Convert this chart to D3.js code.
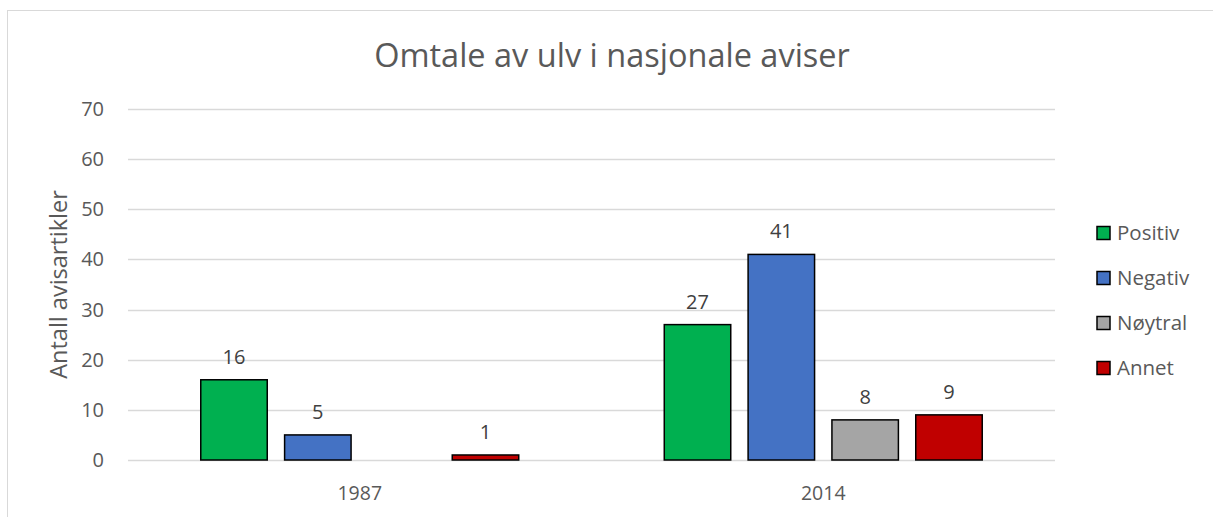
<!DOCTYPE html>
<html>
<head>
<meta charset="utf-8">
<script src="https://cdn.jsdelivr.net/npm/d3@7"></script>
<style>
  body { margin: 0; background: #fff; }
  text { font-family: "Open Sans", "Noto Sans", sans-serif; fill: #595959; }
</style>
</head>
<body>
<svg></svg>
<script>
const years = ['1987', '2014'];
const seriesNames = ['Positiv', 'Negativ', 'Nøytral', 'Annet'];
const seriesColors = ['#00B050', '#4472C4', '#A5A5A5', '#C00000'];
// null = ingen verdi (ingen søyle, ingen etikett)
const positiv = [16, 27];
const negativ = [5, 41];
const noytral = [null, 8];
const annet = [1, 9];
const yTicks = [0, 10, 20, 30, 40, 50, 60, 70];

const seriesValues = [positiv, negativ, noytral, annet];

const svgWidth = 1213;
const svgHeight = 517;
const margin = { left: 128, right: 158, top: 109, bottom: 57 };
const width = svgWidth - margin.left - margin.right;
const height = svgHeight - margin.top - margin.bottom;

const svg = d3.select("svg")
  .attr("width", svgWidth)
  .attr("height", svgHeight);

// ramme rundt diagrammet
svg.append("rect")
  .attr("x", 7.5)
  .attr("y", 10.5)
  .attr("width", svgWidth + 10)
  .attr("height", svgHeight + 10)
  .attr("fill", "none")
  .attr("stroke", "#D9D9D9")
  .attr("stroke-width", 1);

const g = svg.append("g")
  .attr("transform", `translate(${margin.left},${margin.top})`);

const x0 = d3.scaleBand()
  .domain(years)
  .range([0, width])
  .paddingInner(0)
  .paddingOuter(0);

// 4 søyler per gruppe, gruppen tar ca 318 av 463 px
const groupWidth = x0.bandwidth() * 0.686;
const x1 = d3.scaleBand()
  .domain(seriesNames)
  .range([(x0.bandwidth() - groupWidth) / 2, (x0.bandwidth() + groupWidth) / 2])
  .paddingInner(0.207)
  .paddingOuter(0);

const y = d3.scaleLinear()
  .domain([0, 70])
  .range([height, 0]);

// rutenett
g.selectAll(".grid")
  .data(yTicks)
  .enter().append("line")
  .attr("class", "grid")
  .attr("x1", 0)
  .attr("x2", width)
  .attr("y1", d => Math.round(y(d)) + 0.5)
  .attr("y2", d => Math.round(y(d)) + 0.5)
  .attr("stroke", "#D9D9D9")
  .attr("stroke-width", 1.3);

// y-akse etiketter
g.selectAll(".y-label")
  .data(yTicks)
  .enter().append("text")
  .attr("class", "y-label")
  .attr("x", -24)
  .attr("y", d => y(d))
  .attr("dy", "0.35em")
  .attr("text-anchor", "end")
  .style("font-size", "20px")
  .text(d => d);

// søyler
const bars = [];
years.forEach((yr, i) => {
  seriesNames.forEach((s, j) => {
    const v = seriesValues[j][i];
    if (v !== null) bars.push({ year: yr, series: s, value: v, color: seriesColors[j] });
  });
});

g.selectAll(".bar")
  .data(bars)
  .enter().append("rect")
  .attr("class", "bar")
  .attr("x", d => x0(d.year) + x1(d.series))
  .attr("y", d => y(d.value))
  .attr("width", x1.bandwidth())
  .attr("height", d => y(0) - y(d.value))
  .attr("fill", d => d.color)
  .attr("stroke", "#000")
  .attr("stroke-width", 1.5);

// dataetiketter
g.selectAll(".value-label")
  .data(bars)
  .enter().append("text")
  .attr("class", "value-label")
  .attr("x", d => x0(d.year) + x1(d.series) + x1.bandwidth() / 2)
  .attr("y", d => y(d.value) - 16)
  .attr("text-anchor", "middle")
  .style("font-size", "20px")
  .style("fill", "#404040")
  .text(d => d.value);

// kategori etiketter
g.selectAll(".x-label")
  .data(years)
  .enter().append("text")
  .attr("class", "x-label")
  .attr("x", d => x0(d) + x0.bandwidth() / 2)
  .attr("y", height + 40)
  .attr("text-anchor", "middle")
  .style("font-size", "19.5px")
  .text(d => d);

// tittel
svg.append("text")
  .attr("x", 612)
  .attr("y", 67)
  .attr("text-anchor", "middle")
  .style("font-size", "32.5px")
  .text("Omtale av ulv i nasjonale aviser");

// y-akse tittel
svg.append("text")
  .attr("transform", `translate(67,${margin.top + height / 2}) rotate(-90)`)
  .attr("text-anchor", "middle")
  .style("font-size", "23.5px")
  .text("Antall avisartikler");

// tegnforklaring
const legend = svg.append("g")
  .attr("transform", "translate(1097,233)");

const item = legend.selectAll(".legend-item")
  .data(seriesNames)
  .enter().append("g")
  .attr("class", "legend-item")
  .attr("transform", (d, i) => `translate(0,${i * 45})`);

item.append("rect")
  .attr("x", 0)
  .attr("y", -6.5)
  .attr("width", 13)
  .attr("height", 13)
  .attr("fill", (d, i) => seriesColors[i])
  .attr("stroke", "#000")
  .attr("stroke-width", 1.5);

item.append("text")
  .attr("x", 20)
  .attr("y", 0)
  .attr("dy", "0.35em")
  .style("font-size", "20.5px")
  .text(d => d);
</script>
</body>
</html>
